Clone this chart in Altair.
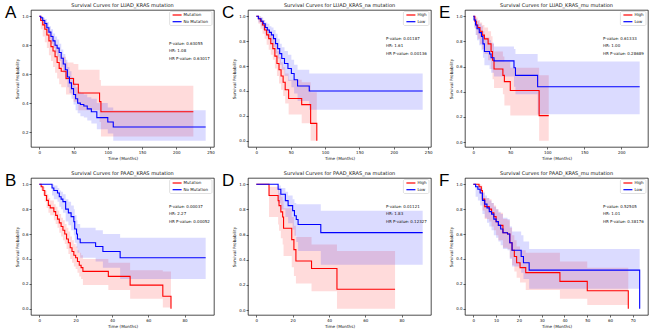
import altair as alt
import pandas as pd

# ---- data: (time, survival, lower CI, upper CI) ----
A_RED = [(0,1.00,1.00,1.00),(2,0.97,0.91,1.00),(5,0.94,0.86,0.98),(8,0.91,0.82,0.96),(11,0.87,0.78,0.93),
         (14,0.83,0.73,0.90),(17,0.79,0.69,0.87),(20,0.76,0.65,0.84),(23,0.72,0.61,0.81),(26,0.68,0.57,0.78),
         (29,0.64,0.53,0.74),(32,0.62,0.51,0.72),(39,0.57,0.46,0.68),(50,0.53,0.41,0.67),(57,0.47,0.35,0.63),
         (88,0.41,0.27,0.56),(90,0.34,0.17,0.52),(225,0.34,0.17,0.52)]
A_BLUE = [(0,1.00,1.00,1.00),(2,0.99,0.97,1.00),(5,0.97,0.94,0.99),(8,0.95,0.91,0.98),(11,0.92,0.88,0.96),
          (14,0.89,0.84,0.93),(17,0.86,0.81,0.91),(20,0.83,0.78,0.88),(23,0.80,0.75,0.86),(26,0.78,0.72,0.84),
          (29,0.75,0.69,0.81),(32,0.71,0.65,0.77),(35,0.67,0.61,0.74),(38,0.63,0.56,0.70),(41,0.58,0.51,0.65),
          (44,0.54,0.47,0.62),(47,0.50,0.43,0.58),(50,0.46,0.39,0.54),(53,0.43,0.35,0.51),(56,0.40,0.33,0.48),
          (60,0.39,0.31,0.47),(65,0.38,0.30,0.46),(70,0.36,0.28,0.44),(76,0.34,0.26,0.43),(84,0.30,0.22,0.40),
          (100,0.27,0.19,0.37),(108,0.235,0.14,0.35),(243,0.235,0.14,0.35)]

C_RED = [(0,1.00,1.00,1.00),(3,0.98,0.94,1.00),(6,0.96,0.90,0.99),(9,0.93,0.86,0.97),(12,0.89,0.82,0.94),
         (15,0.85,0.77,0.91),(18,0.82,0.73,0.88),(21,0.78,0.69,0.85),(24,0.74,0.65,0.82),(27,0.68,0.58,0.77),
         (30,0.62,0.52,0.72),(33,0.57,0.46,0.67),(36,0.52,0.41,0.63),(39,0.47,0.36,0.59),(42,0.41,0.30,0.54),
         (47,0.34,0.21,0.49),(66,0.29,0.14,0.47),(79,0.14,0.00,0.39),(88,0.00,0.00,0.00)]
C_BLUE = [(0,1.00,1.00,1.00),(3,0.98,0.95,1.00),(7,0.96,0.92,0.99),(10,0.94,0.89,0.97),(13,0.91,0.86,0.95),
          (16,0.89,0.83,0.94),(19,0.87,0.81,0.92),(22,0.85,0.78,0.91),(25,0.82,0.75,0.89),(28,0.78,0.70,0.86),
          (31,0.74,0.66,0.82),(34,0.70,0.61,0.78),(37,0.66,0.57,0.75),(41,0.62,0.52,0.72),(46,0.58,0.48,0.69),
          (51,0.54,0.43,0.65),(55,0.49,0.38,0.61),(60,0.44,0.32,0.57),(77,0.40,0.25,0.54),(242,0.40,0.25,0.54)]

E_RED = [(0,1.00,1.00,1.00),(2,0.96,0.90,1.00),(4,0.93,0.85,0.99),(6,0.91,0.82,0.97),(9,0.88,0.78,0.95),
         (12,0.85,0.74,0.93),(15,0.82,0.70,0.91),(20,0.78,0.65,0.88),(24,0.72,0.58,0.84),(26,0.65,0.50,0.78),
         (28,0.58,0.43,0.72),(40,0.53,0.38,0.68),(42,0.48,0.29,0.64),(50,0.41,0.21,0.59),(89,0.21,0.01,0.53),
         (102,0.21,0.01,0.53)]
E_BLUE = [(0,1.00,1.00,1.00),(1,0.97,0.91,1.00),(3,0.93,0.85,0.98),(5,0.90,0.81,0.96),(8,0.87,0.77,0.94),
          (11,0.84,0.73,0.92),(13,0.78,0.67,0.88),(15,0.72,0.61,0.83),(22,0.70,0.58,0.81),(24,0.67,0.55,0.79),
          (28,0.645,0.52,0.76),(55,0.59,0.44,0.74),(57,0.53,0.38,0.70),(87,0.44,0.22,0.64),(225,0.44,0.22,0.64)]

B_RED = [(0,1.00,1.00,1.00),(1,0.98,0.95,1.00),(2,0.95,0.91,0.98),(3,0.91,0.86,0.95),(4,0.87,0.81,0.92),
         (5,0.83,0.77,0.89),(6,0.81,0.75,0.87),(8,0.78,0.71,0.84),(9,0.75,0.68,0.82),(10,0.72,0.65,0.79),
         (11,0.69,0.61,0.76),(12,0.66,0.58,0.73),(13,0.63,0.55,0.71),(14,0.60,0.52,0.68),(15,0.56,0.48,0.65),
         (16,0.53,0.44,0.62),(17,0.49,0.40,0.58),(18,0.46,0.37,0.55),(19,0.43,0.34,0.52),(20,0.41,0.32,0.50),
         (21,0.38,0.29,0.47),(22,0.35,0.26,0.45),(23,0.33,0.24,0.43),(24,0.30,0.19,0.40),(38,0.26,0.15,0.37),
         (50,0.19,0.08,0.31),(68,0.10,0.01,0.30),(72.5,0.00,0.00,0.00)]
B_BLUE = [(0,1.00,1.00,1.00),(7,0.97,0.91,1.00),(8,0.95,0.88,0.99),(10,0.93,0.86,0.97),(11,0.90,0.82,0.95),
          (12,0.88,0.80,0.94),(13,0.86,0.77,0.92),(14.5,0.80,0.70,0.88),(16,0.77,0.67,0.86),(17.5,0.74,0.63,0.83),
          (19,0.70,0.59,0.80),(19.5,0.64,0.53,0.75),(20.5,0.60,0.49,0.71),(21,0.56,0.45,0.68),(22.5,0.53,0.41,0.65),
          (31,0.50,0.38,0.63),(35,0.46,0.33,0.60),(44.5,0.41,0.24,0.57),(91.6,0.41,0.24,0.57)]

D_RED = [(0,1.00,1.00,1.00),(7,0.91,0.74,0.98),(12,0.87,0.68,0.96),(12.5,0.83,0.63,0.93),(13.5,0.78,0.57,0.90),
         (14.5,0.74,0.52,0.87),(15,0.65,0.43,0.81),(19.5,0.56,0.34,0.74),(20.7,0.48,0.27,0.67),(21.8,0.39,0.21,0.58),
         (30.4,0.33,0.15,0.52),(44.4,0.165,0.01,0.47),(76.4,0.165,0.01,0.47)]
D_BLUE = [(0,1.00,1.00,1.00),(12,0.96,0.85,0.99),(13.5,0.92,0.80,0.97),(16,0.87,0.74,0.94),(17.5,0.83,0.69,0.91),
          (20,0.79,0.64,0.88),(21,0.75,0.59,0.85),(22,0.72,0.54,0.84),(23,0.68,0.47,0.84),(35.5,0.615,0.36,0.79),
          (91.6,0.615,0.36,0.79)]

F_RED = [(0,1.00,1.00,1.00),(2.5,0.98,0.93,1.00),(3.5,0.95,0.88,0.99),(4,0.88,0.79,0.94),(5,0.82,0.72,0.89),
         (7,0.80,0.70,0.88),(8,0.77,0.66,0.85),(9,0.74,0.63,0.83),(10,0.70,0.59,0.80),(11,0.67,0.55,0.77),
         (13,0.61,0.49,0.72),(15,0.60,0.48,0.71),(16,0.53,0.41,0.65),(17,0.47,0.35,0.59),(18,0.42,0.30,0.55),
         (19,0.37,0.25,0.50),(20.5,0.33,0.21,0.47),(23,0.29,0.15,0.45),(38,0.22,0.08,0.38),(50,0.145,0.03,0.33),
         (68,0.00,0.00,0.00)]
F_BLUE = [(0,1.00,1.00,1.00),(1,0.98,0.90,1.00),(2,0.96,0.87,0.99),(3,0.93,0.83,0.97),(4,0.87,0.76,0.93),
          (5,0.84,0.73,0.91),(6,0.81,0.69,0.89),(7,0.78,0.66,0.87),(8,0.76,0.63,0.85),(9,0.72,0.59,0.82),
          (10,0.70,0.57,0.80),(11,0.67,0.54,0.78),(12,0.64,0.51,0.76),(13,0.61,0.48,0.73),(15,0.60,0.47,0.72),
          (16,0.53,0.40,0.66),(17,0.47,0.34,0.62),(21,0.42,0.29,0.59),(22,0.37,0.24,0.54),(24.5,0.31,0.16,0.48),
          (73,0.00,0.00,0.00)]

MUT_GROUPS = ["Mutation", "No Mutation"]
HL_GROUPS = ["High", "Low"]

LUAD_X = [0, 50, 100, 150, 200, 250]
LUAD_MU_X = [0, 50, 100, 150, 200]
PAAD_X = [0, 20, 40, 60, 80]
PAAD_MU_X = [0, 10, 20, 30, 40, 50, 60, 70]
Y_A = [0.2, 0.4, 0.6, 0.8, 1.0]
Y_ALL = [0.0, 0.2, 0.4, 0.6, 0.8, 1.0]

PANELS = {
    "A": dict(title="Survival Curves for LUAD_KRAS mutation", groups=MUT_GROUPS, series=(A_RED, A_BLUE),
              stats=("0.63055", "1.08", "0.63017"), xt=LUAD_X, yt=Y_A, sy=32),
    "C": dict(title="Survival Curves for LUAD_KRAS_na mutation", groups=HL_GROUPS, series=(C_RED, C_BLUE),
              stats=("0.01187", "1.61", "0.00136"), xt=LUAD_X, yt=Y_ALL, sy=27),
    "E": dict(title="Survival Curves for LUAD_KRAS_mu mutation", groups=HL_GROUPS, series=(E_RED, E_BLUE),
              stats=("0.61333", "1.00", "0.28689"), xt=LUAD_MU_X, yt=Y_ALL, sy=27),
    "B": dict(title="Survival Curves for PAAD_KRAS mutation", groups=MUT_GROUPS, series=(B_RED, B_BLUE),
              stats=("0.00037", "2.27", "0.00052"), xt=PAAD_X, yt=Y_ALL, sy=27),
    "D": dict(title="Survival Curves for PAAD_KRAS_na mutation", groups=HL_GROUPS, series=(D_RED, D_BLUE),
              stats=("0.01121", "1.83", "0.12327"), xt=PAAD_X, yt=Y_ALL, sy=27),
    "F": dict(title="Survival Curves for PAAD_KRAS_mu mutation", groups=HL_GROUPS, series=(F_RED, F_BLUE),
              stats=("0.52505", "1.01", "0.38176"), xt=PAAD_MU_X, yt=Y_ALL, sy=27),
}

FONT = "DejaVu Sans"
W, H = 183, 137
RED, BLUE = "#ff0000", "#0000ff"
COLORS = [RED, BLUE]


def legend_layers(groups):
    # matplotlib-style legend box in the upper right corner of the axes
    right = W - 2
    lab_w = 2.4 * max(len(g) for g in groups)
    left = right - 16 - lab_w
    box = alt.Chart(pd.DataFrame({"k": [0]})).mark_rect(
        fill="white", fillOpacity=0.85, stroke="#cccccc", strokeWidth=0.6, cornerRadius=1.5
    ).encode(x=alt.value(left), x2=alt.value(right), y=alt.value(1.5), y2=alt.value(15.5))
    layers = [box]
    for i, (g, c) in enumerate(zip(groups, COLORS)):
        yy = 5 + i * 6.7
        d = pd.DataFrame({"g": [g]})
        layers.append(alt.Chart(d).mark_rule(color=c, strokeWidth=1.2).encode(
            x=alt.value(left + 3), x2=alt.value(left + 12), y=alt.value(yy)))
        layers.append(alt.Chart(d).mark_text(align="left", baseline="middle", fontSize=4,
                                             font=FONT, color="#111").encode(
            text="g:N", x=alt.value(left + 14), y=alt.value(yy)))
    return layers


def panel(letter):
    p = PANELS[letter]
    rows = []
    for g, ser in zip(p["groups"], p["series"]):
        for t, s, lo, hi in ser:
            rows.append(dict(t=t, s=s, lo=lo, hi=hi, g=g))
    df = pd.DataFrame(rows)
    tmax = df["t"].max()
    ymin = min(df["lo"].min(), df["s"].min())
    ymax = 1.0
    xr = tmax
    yr = ymax - ymin
    xs = alt.Scale(domain=[-0.05 * xr, tmax + 0.05 * xr], nice=False, zero=False)
    ys = alt.Scale(domain=[ymin - 0.05 * yr, ymax + 0.05 * yr], nice=False, zero=False)
    xax = alt.Axis(values=p["xt"], title="Time (Months)", format="d")
    yax = alt.Axis(values=p["yt"], title="Survival Probability", format=".1f")
    cs = alt.Scale(domain=p["groups"], range=COLORS)
    base = alt.Chart(df)
    band = base.mark_area(interpolate="step-after", fillOpacity=0.14).encode(
        x=alt.X("t:Q", scale=xs, axis=xax),
        y=alt.Y("lo:Q", scale=ys, axis=yax),
        y2="hi:Q",
        fill=alt.Fill("g:N", scale=cs, legend=None),
    )
    line = base.mark_line(interpolate="step-after", strokeWidth=1.1).encode(
        x=alt.X("t:Q", scale=xs, axis=xax),
        y=alt.Y("s:Q", scale=ys, axis=yax),
        stroke=alt.Stroke("g:N", scale=cs, legend=None),
    )
    st = p["stats"]
    txt = pd.DataFrame({"txt": [f"P-value: {st[0]}\nHR: {st[1]}\nHR P-value: {st[2]}"]})
    stats = alt.Chart(txt).mark_text(align="left", baseline="top", fontSize=4, font=FONT,
                                     lineBreak="\n", lineHeight=7.3, color="#111").encode(
        text="txt:N", x=alt.value(138), y=alt.value(p["sy"]))
    lab = pd.DataFrame({"l": [letter]})
    letter_mark = alt.Chart(lab).mark_text(align="left", baseline="alphabetic", fontSize=17,
                                           font="Liberation Sans", color="black").encode(
        text="l:N", x=alt.value(-26), y=alt.value(8))
    return alt.layer(band, line, stats, *legend_layers(p["groups"]), letter_mark).properties(
        width=W, height=H,
        title=alt.TitleParams(p["title"], fontSize=5, font=FONT, fontWeight="normal",
                              color="#111", offset=3, dy=7),
    )


chart = alt.concat(
    panel("A"), panel("C"), panel("E"), panel("B"), panel("D"), panel("F"),
    columns=3, spacing={"row": 31, "column": 34}, bounds="flush",
).resolve_scale(stroke="independent", fill="independent").configure(
    padding={"left": 4, "top": 2, "right": 0, "bottom": 0},
    background="white",
).configure_view(stroke="black", strokeWidth=0.7).configure_axis(
    domain=False, grid=False, ticks=True, tickSize=2, tickWidth=0.6, tickColor="black",
    labelFontSize=4, labelFont=FONT, labelColor="#111", labelPadding=1,
    titleFontSize=4.2, titleFont=FONT, titleColor="#111", titleFontWeight="normal", titlePadding=2,
)

chart.save("out.html", embed_options={"renderer": "svg", "actions": False})
